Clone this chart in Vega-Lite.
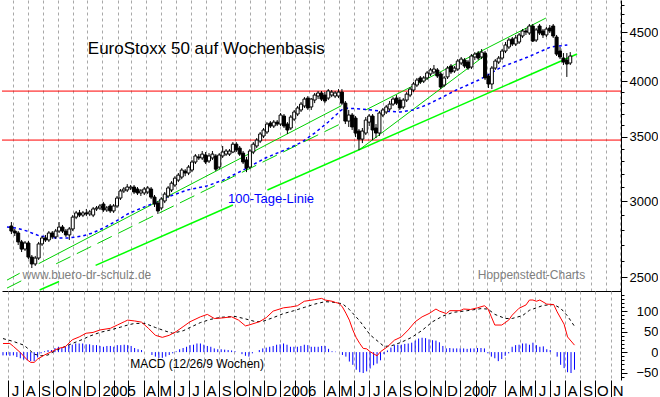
{
  "$schema": "https://vega.github.io/schema/vega-lite/v6.json",
  "padding": 0,
  "background": "#ffffff",
  "spacing": 0,
  "bounds": "flush",
  "config": {
    "view": {"stroke": null},
    "font": "Liberation Sans",
    "axis": {"labelFont": "Liberation Sans", "labelColor": "#000000", "tickColor": "#000000", "domainColor": "#000000", "title": null}
  },
  "datasets": {
    "candles": [
      {"date":"2004-06-28","o":2826,"h":2853,"l":2772,"c":2792},
      {"date":"2004-07-05","o":2792,"h":2806,"l":2759,"c":2779},
      {"date":"2004-07-12","o":2779,"h":2792,"l":2700,"c":2720},
      {"date":"2004-07-19","o":2720,"h":2733,"l":2655,"c":2674},
      {"date":"2004-07-26","o":2674,"h":2726,"l":2662,"c":2713},
      {"date":"2004-08-02","o":2713,"h":2726,"l":2611,"c":2623},
      {"date":"2004-08-09","o":2623,"h":2636,"l":2555,"c":2580},
      {"date":"2004-08-16","o":2580,"h":2630,"l":2568,"c":2617},
      {"date":"2004-08-23","o":2617,"h":2720,"l":2605,"c":2707},
      {"date":"2004-08-30","o":2707,"h":2759,"l":2694,"c":2746},
      {"date":"2004-09-06","o":2746,"h":2766,"l":2720,"c":2733},
      {"date":"2004-09-13","o":2733,"h":2792,"l":2720,"c":2779},
      {"date":"2004-09-20","o":2779,"h":2792,"l":2740,"c":2753},
      {"date":"2004-09-27","o":2753,"h":2806,"l":2740,"c":2792},
      {"date":"2004-10-04","o":2792,"h":2853,"l":2779,"c":2819},
      {"date":"2004-10-11","o":2819,"h":2833,"l":2779,"c":2792},
      {"date":"2004-10-18","o":2792,"h":2806,"l":2753,"c":2766},
      {"date":"2004-10-25","o":2766,"h":2819,"l":2733,"c":2806},
      {"date":"2004-11-01","o":2806,"h":2901,"l":2792,"c":2887},
      {"date":"2004-11-08","o":2887,"h":2930,"l":2873,"c":2916},
      {"date":"2004-11-15","o":2916,"h":2937,"l":2887,"c":2901},
      {"date":"2004-11-22","o":2901,"h":2930,"l":2887,"c":2916},
      {"date":"2004-11-29","o":2916,"h":2944,"l":2894,"c":2909},
      {"date":"2004-12-06","o":2909,"h":2937,"l":2894,"c":2923},
      {"date":"2004-12-13","o":2901,"h":2958,"l":2887,"c":2944},
      {"date":"2004-12-20","o":2944,"h":2965,"l":2930,"c":2951},
      {"date":"2004-12-27","o":2951,"h":2979,"l":2937,"c":2965},
      {"date":"2005-01-03","o":2979,"h":2994,"l":2923,"c":2937},
      {"date":"2005-01-10","o":2937,"h":2965,"l":2923,"c":2951},
      {"date":"2005-01-17","o":2965,"h":2979,"l":2916,"c":2930},
      {"date":"2005-01-24","o":2930,"h":2979,"l":2916,"c":2965},
      {"date":"2005-01-31","o":2965,"h":3037,"l":2951,"c":3022},
      {"date":"2005-02-07","o":3022,"h":3088,"l":3008,"c":3074},
      {"date":"2005-02-14","o":3074,"h":3103,"l":3059,"c":3088},
      {"date":"2005-02-21","o":3081,"h":3125,"l":3066,"c":3103},
      {"date":"2005-02-28","o":3096,"h":3118,"l":3081,"c":3103},
      {"date":"2005-03-07","o":3103,"h":3118,"l":3051,"c":3066},
      {"date":"2005-03-14","o":3088,"h":3103,"l":3044,"c":3059},
      {"date":"2005-03-21","o":3059,"h":3088,"l":3037,"c":3074},
      {"date":"2005-03-28","o":3059,"h":3103,"l":3044,"c":3088},
      {"date":"2005-04-04","o":3066,"h":3110,"l":3051,"c":3096},
      {"date":"2005-04-11","o":3088,"h":3103,"l":3015,"c":3029},
      {"date":"2005-04-18","o":3029,"h":3044,"l":2958,"c":2979},
      {"date":"2005-04-25","o":2986,"h":3001,"l":2909,"c":2930},
      {"date":"2005-05-02","o":2951,"h":3029,"l":2937,"c":3015},
      {"date":"2005-05-09","o":3001,"h":3066,"l":2986,"c":3051},
      {"date":"2005-05-16","o":3037,"h":3110,"l":3022,"c":3096},
      {"date":"2005-05-23","o":3081,"h":3147,"l":3066,"c":3132},
      {"date":"2005-05-30","o":3118,"h":3185,"l":3103,"c":3170},
      {"date":"2005-06-06","o":3155,"h":3209,"l":3140,"c":3193},
      {"date":"2005-06-13","o":3178,"h":3247,"l":3162,"c":3232},
      {"date":"2005-06-20","o":3224,"h":3239,"l":3185,"c":3209},
      {"date":"2005-06-27","o":3209,"h":3271,"l":3193,"c":3255},
      {"date":"2005-07-04","o":3232,"h":3311,"l":3216,"c":3295},
      {"date":"2005-07-11","o":3295,"h":3358,"l":3279,"c":3343},
      {"date":"2005-07-18","o":3335,"h":3358,"l":3311,"c":3327},
      {"date":"2005-07-25","o":3327,"h":3383,"l":3311,"c":3358},
      {"date":"2005-08-01","o":3351,"h":3375,"l":3279,"c":3295},
      {"date":"2005-08-08","o":3303,"h":3366,"l":3287,"c":3343},
      {"date":"2005-08-15","o":3327,"h":3383,"l":3311,"c":3358},
      {"date":"2005-08-22","o":3343,"h":3358,"l":3224,"c":3239},
      {"date":"2005-08-29","o":3255,"h":3366,"l":3239,"c":3351},
      {"date":"2005-09-05","o":3343,"h":3424,"l":3327,"c":3375},
      {"date":"2005-09-12","o":3358,"h":3399,"l":3343,"c":3383},
      {"date":"2005-09-19","o":3358,"h":3399,"l":3343,"c":3383},
      {"date":"2005-09-26","o":3375,"h":3456,"l":3366,"c":3439},
      {"date":"2005-10-03","o":3439,"h":3456,"l":3375,"c":3391},
      {"date":"2005-10-10","o":3407,"h":3424,"l":3343,"c":3358},
      {"date":"2005-10-17","o":3366,"h":3383,"l":3279,"c":3295},
      {"date":"2005-10-24","o":3311,"h":3335,"l":3216,"c":3247},
      {"date":"2005-10-31","o":3255,"h":3399,"l":3239,"c":3383},
      {"date":"2005-11-07","o":3375,"h":3456,"l":3358,"c":3439},
      {"date":"2005-11-14","o":3424,"h":3490,"l":3407,"c":3473},
      {"date":"2005-11-21","o":3465,"h":3541,"l":3448,"c":3524},
      {"date":"2005-11-28","o":3507,"h":3575,"l":3490,"c":3558},
      {"date":"2005-12-05","o":3541,"h":3626,"l":3524,"c":3609},
      {"date":"2005-12-12","o":3618,"h":3635,"l":3575,"c":3592},
      {"date":"2005-12-19","o":3592,"h":3644,"l":3575,"c":3626},
      {"date":"2005-12-26","o":3626,"h":3644,"l":3592,"c":3609},
      {"date":"2006-01-02","o":3609,"h":3706,"l":3592,"c":3688},
      {"date":"2006-01-09","o":3679,"h":3697,"l":3575,"c":3592},
      {"date":"2006-01-16","o":3609,"h":3626,"l":3524,"c":3558},
      {"date":"2006-01-23","o":3575,"h":3688,"l":3558,"c":3670},
      {"date":"2006-01-30","o":3652,"h":3733,"l":3635,"c":3715},
      {"date":"2006-02-06","o":3697,"h":3769,"l":3679,"c":3751},
      {"date":"2006-02-13","o":3733,"h":3805,"l":3715,"c":3786},
      {"date":"2006-02-20","o":3769,"h":3850,"l":3751,"c":3832},
      {"date":"2006-02-27","o":3841,"h":3860,"l":3733,"c":3751},
      {"date":"2006-03-06","o":3760,"h":3841,"l":3733,"c":3832},
      {"date":"2006-03-13","o":3823,"h":3888,"l":3795,"c":3869},
      {"date":"2006-03-20","o":3860,"h":3907,"l":3832,"c":3888},
      {"date":"2006-03-27","o":3888,"h":3907,"l":3814,"c":3832},
      {"date":"2006-04-03","o":3869,"h":3897,"l":3795,"c":3814},
      {"date":"2006-04-10","o":3841,"h":3925,"l":3823,"c":3907},
      {"date":"2006-04-17","o":3869,"h":3916,"l":3850,"c":3897},
      {"date":"2006-04-24","o":3860,"h":3907,"l":3841,"c":3888},
      {"date":"2006-05-01","o":3860,"h":3925,"l":3841,"c":3897},
      {"date":"2006-05-08","o":3897,"h":3925,"l":3778,"c":3795},
      {"date":"2006-05-15","o":3795,"h":3814,"l":3609,"c":3635},
      {"date":"2006-05-22","o":3635,"h":3733,"l":3584,"c":3688},
      {"date":"2006-05-29","o":3688,"h":3706,"l":3558,"c":3584},
      {"date":"2006-06-05","o":3661,"h":3679,"l":3498,"c":3532},
      {"date":"2006-06-12","o":3549,"h":3566,"l":3391,"c":3481},
      {"date":"2006-06-19","o":3481,"h":3575,"l":3448,"c":3549},
      {"date":"2006-06-26","o":3532,"h":3670,"l":3515,"c":3644},
      {"date":"2006-07-03","o":3626,"h":3697,"l":3592,"c":3679},
      {"date":"2006-07-10","o":3679,"h":3697,"l":3473,"c":3558},
      {"date":"2006-07-17","o":3575,"h":3609,"l":3490,"c":3532},
      {"date":"2006-07-24","o":3532,"h":3724,"l":3507,"c":3706},
      {"date":"2006-07-31","o":3688,"h":3751,"l":3670,"c":3733},
      {"date":"2006-08-07","o":3715,"h":3778,"l":3697,"c":3760},
      {"date":"2006-08-14","o":3742,"h":3814,"l":3724,"c":3786},
      {"date":"2006-08-21","o":3786,"h":3850,"l":3769,"c":3832},
      {"date":"2006-08-28","o":3841,"h":3869,"l":3778,"c":3795},
      {"date":"2006-09-04","o":3823,"h":3850,"l":3733,"c":3751},
      {"date":"2006-09-11","o":3760,"h":3841,"l":3742,"c":3823},
      {"date":"2006-09-18","o":3823,"h":3897,"l":3805,"c":3878},
      {"date":"2006-09-25","o":3869,"h":3944,"l":3850,"c":3925},
      {"date":"2006-10-02","o":3916,"h":3992,"l":3897,"c":3973},
      {"date":"2006-10-09","o":3963,"h":4031,"l":3944,"c":4011},
      {"date":"2006-10-16","o":4031,"h":4050,"l":3973,"c":3992},
      {"date":"2006-10-23","o":4001,"h":4050,"l":3982,"c":4031},
      {"date":"2006-10-30","o":4031,"h":4099,"l":4011,"c":4080},
      {"date":"2006-11-06","o":4070,"h":4128,"l":4050,"c":4109},
      {"date":"2006-11-13","o":4089,"h":4158,"l":4070,"c":4118},
      {"date":"2006-11-20","o":4109,"h":4128,"l":4031,"c":4050},
      {"date":"2006-11-27","o":4070,"h":4089,"l":3925,"c":3944},
      {"date":"2006-12-04","o":3963,"h":4050,"l":3944,"c":4031},
      {"date":"2006-12-11","o":4041,"h":4148,"l":4021,"c":4128},
      {"date":"2006-12-18","o":4148,"h":4168,"l":4070,"c":4089},
      {"date":"2006-12-25","o":4099,"h":4148,"l":4080,"c":4128},
      {"date":"2007-01-01","o":4118,"h":4218,"l":4099,"c":4198},
      {"date":"2007-01-08","o":4178,"h":4239,"l":4158,"c":4218},
      {"date":"2007-01-15","o":4208,"h":4228,"l":4128,"c":4148},
      {"date":"2007-01-22","o":4188,"h":4208,"l":4109,"c":4128},
      {"date":"2007-01-29","o":4138,"h":4269,"l":4118,"c":4249},
      {"date":"2007-02-05","o":4239,"h":4289,"l":4208,"c":4269},
      {"date":"2007-02-12","o":4279,"h":4300,"l":4208,"c":4228},
      {"date":"2007-02-19","o":4239,"h":4321,"l":4218,"c":4289},
      {"date":"2007-02-26","o":4279,"h":4300,"l":4011,"c":4031},
      {"date":"2007-03-05","o":4050,"h":4070,"l":3935,"c":3973},
      {"date":"2007-03-12","o":3973,"h":4148,"l":3925,"c":4128},
      {"date":"2007-03-19","o":4128,"h":4218,"l":4109,"c":4198},
      {"date":"2007-03-26","o":4188,"h":4249,"l":4168,"c":4228},
      {"date":"2007-04-02","o":4228,"h":4321,"l":4208,"c":4300},
      {"date":"2007-04-09","o":4300,"h":4394,"l":4279,"c":4363},
      {"date":"2007-04-16","o":4342,"h":4437,"l":4321,"c":4415},
      {"date":"2007-04-23","o":4426,"h":4447,"l":4352,"c":4373},
      {"date":"2007-04-30","o":4373,"h":4469,"l":4352,"c":4437},
      {"date":"2007-05-07","o":4394,"h":4490,"l":4373,"c":4469},
      {"date":"2007-05-14","o":4458,"h":4533,"l":4437,"c":4512},
      {"date":"2007-05-21","o":4512,"h":4544,"l":4469,"c":4501},
      {"date":"2007-05-28","o":4490,"h":4588,"l":4469,"c":4566},
      {"date":"2007-06-04","o":4566,"h":4588,"l":4394,"c":4404},
      {"date":"2007-06-11","o":4415,"h":4544,"l":4394,"c":4523},
      {"date":"2007-06-18","o":4566,"h":4588,"l":4469,"c":4490},
      {"date":"2007-06-25","o":4512,"h":4533,"l":4437,"c":4469},
      {"date":"2007-07-02","o":4469,"h":4555,"l":4447,"c":4533},
      {"date":"2007-07-09","o":4544,"h":4577,"l":4490,"c":4512},
      {"date":"2007-07-16","o":4566,"h":4588,"l":4437,"c":4458},
      {"date":"2007-07-23","o":4447,"h":4469,"l":4249,"c":4269},
      {"date":"2007-07-30","o":4300,"h":4342,"l":4218,"c":4239},
      {"date":"2007-08-06","o":4228,"h":4279,"l":4158,"c":4188},
      {"date":"2007-08-13","o":4208,"h":4279,"l":4041,"c":4168},
      {"date":"2007-08-20","o":4178,"h":4289,"l":4158,"c":4249}
    ],
    "ma": [
      {"date":"2004-06-19","v":2819},{"date":"2004-07-09","v":2812},{"date":"2004-07-29","v":2793},
      {"date":"2004-08-25","v":2759},{"date":"2004-09-28","v":2746},{"date":"2004-10-24","v":2746},
      {"date":"2004-11-21","v":2759},{"date":"2004-12-12","v":2779},{"date":"2005-01-07","v":2819},
      {"date":"2005-02-02","v":2867},{"date":"2005-02-22","v":2909},{"date":"2005-03-23","v":2951},
      {"date":"2005-04-18","v":2987},{"date":"2005-05-14","v":3029},{"date":"2005-06-24","v":3081},
      {"date":"2005-08-03","v":3110},{"date":"2005-09-06","v":3155},{"date":"2005-10-17","v":3232},
      {"date":"2005-12-02","v":3327},{"date":"2006-01-20","v":3407},{"date":"2006-02-15","v":3457},
      {"date":"2006-03-13","v":3532},{"date":"2006-04-10","v":3627},{"date":"2006-05-07","v":3733},
      {"date":"2006-05-13","v":3750},{"date":"2006-06-16","v":3742},{"date":"2006-07-26","v":3724},
      {"date":"2006-09-05","v":3715},{"date":"2006-10-01","v":3733},{"date":"2006-10-29","v":3778},
      {"date":"2006-12-01","v":3851},{"date":"2006-12-29","v":3916},{"date":"2007-02-13","v":4011},
      {"date":"2007-04-01","v":4138},{"date":"2007-05-25","v":4239},{"date":"2007-07-11","v":4342},
      {"date":"2007-08-14","v":4363}
    ],
    "bright": [
      {"line":"c1","date":"2004-08-25","v":2424},{"line":"c1","date":"2004-10-04","v":2474},
      {"line":"c2","date":"2004-12-18","v":2571},{"line":"c2","date":"2005-09-26","v":2972},
      {"line":"c3","date":"2005-12-06","v":3081},{"line":"c3","date":"2007-09-03","v":4269}
    ],
    "thin": [
      {"line":"a1","date":"2004-06-19","v":2482},{"line":"a1","date":"2004-07-15","v":2523},
      {"line":"a2","date":"2004-08-23","v":2582},{"line":"a2","date":"2006-05-07","v":3772},
      {"line":"d","date":"2006-06-12","v":3391},{"line":"d","date":"2007-02-27","v":4259},
      {"line":"e","date":"2006-06-26","v":3733},{"line":"e","date":"2007-07-01","v":4654}
    ],
    "dashed": [
      {"line":"b1","date":"2004-06-19","v":2435},{"line":"b1","date":"2004-07-29","v":2493},
      {"line":"b2","date":"2004-09-28","v":2581},{"line":"b2","date":"2006-05-07","v":3615}
    ],
    "levels": [{"v":3906},{"v":3473}],
    "macd": [
      {"date":"2004-06-21","m":21},{"date":"2004-07-05","m":21},{"date":"2004-07-12","m":14},
      {"date":"2004-07-26","m":-1},{"date":"2004-08-09","m":-19},{"date":"2004-08-16","m":-25},
      {"date":"2004-08-23","m":-25},{"date":"2004-08-30","m":-17},{"date":"2004-09-13","m":-7},
      {"date":"2004-09-27","m":1},{"date":"2004-10-11","m":9},{"date":"2004-10-25","m":13},
      {"date":"2004-11-08","m":30},{"date":"2004-11-22","m":37},{"date":"2004-12-06","m":46},
      {"date":"2004-12-20","m":48},{"date":"2005-01-03","m":54},{"date":"2005-01-24","m":58},
      {"date":"2005-02-07","m":66},{"date":"2005-02-21","m":74},{"date":"2005-02-28","m":78},
      {"date":"2005-03-14","m":76},{"date":"2005-03-28","m":73},{"date":"2005-04-11","m":58},
      {"date":"2005-04-25","m":41},{"date":"2005-05-09","m":36},{"date":"2005-05-23","m":41},
      {"date":"2005-06-06","m":50},{"date":"2005-06-20","m":62},{"date":"2005-07-04","m":74},
      {"date":"2005-07-25","m":86},{"date":"2005-08-08","m":92},{"date":"2005-08-22","m":82},
      {"date":"2005-09-05","m":83},{"date":"2005-09-26","m":86},{"date":"2005-10-10","m":78},
      {"date":"2005-10-24","m":64},{"date":"2005-10-31","m":66},{"date":"2005-11-21","m":74},
      {"date":"2005-12-05","m":84},{"date":"2005-12-19","m":100},{"date":"2006-01-09","m":108},
      {"date":"2006-01-23","m":110},{"date":"2006-02-06","m":113},{"date":"2006-02-20","m":124},
      {"date":"2006-03-13","m":128},{"date":"2006-03-27","m":131},{"date":"2006-04-03","m":127},
      {"date":"2006-04-17","m":124},{"date":"2006-04-24","m":121},{"date":"2006-05-01","m":119},
      {"date":"2006-05-08","m":110},{"date":"2006-05-15","m":95},{"date":"2006-05-22","m":78},
      {"date":"2006-05-29","m":54},{"date":"2006-06-05","m":35},{"date":"2006-06-12","m":21},
      {"date":"2006-06-19","m":9},{"date":"2006-06-26","m":8},{"date":"2006-07-03","m":1},
      {"date":"2006-07-17","m":-9},{"date":"2006-07-24","m":1},{"date":"2006-08-07","m":13},
      {"date":"2006-08-21","m":29},{"date":"2006-09-04","m":37},{"date":"2006-09-18","m":54},
      {"date":"2006-10-02","m":74},{"date":"2006-10-16","m":86},{"date":"2006-10-30","m":94},
      {"date":"2006-11-13","m":105},{"date":"2006-11-20","m":100},{"date":"2006-12-04","m":94},
      {"date":"2006-12-11","m":101},{"date":"2007-01-01","m":101},{"date":"2007-01-08","m":105},
      {"date":"2007-01-22","m":104},{"date":"2007-02-05","m":108},{"date":"2007-02-19","m":113},
      {"date":"2007-02-26","m":106},{"date":"2007-03-05","m":86},{"date":"2007-03-12","m":66},
      {"date":"2007-03-26","m":66},{"date":"2007-04-09","m":78},{"date":"2007-04-16","m":90},
      {"date":"2007-04-30","m":107},{"date":"2007-05-14","m":115},{"date":"2007-05-21","m":127},
      {"date":"2007-05-28","m":127},{"date":"2007-06-04","m":124},{"date":"2007-06-11","m":127},
      {"date":"2007-06-25","m":117},{"date":"2007-07-09","m":116},{"date":"2007-07-16","m":98},
      {"date":"2007-07-30","m":68},{"date":"2007-08-06","m":37},{"date":"2007-08-20","m":17}
    ],
    "signal": [
      {"date":"2004-06-21","s":33},{"date":"2004-07-12","s":26},{"date":"2004-08-02","s":17},
      {"date":"2004-08-09","s":10},{"date":"2004-08-23","s":-5},{"date":"2004-09-06","s":-9},
      {"date":"2004-09-20","s":-7},{"date":"2004-10-04","s":3},{"date":"2004-10-25","s":14},
      {"date":"2004-11-08","s":21},{"date":"2004-11-29","s":31},{"date":"2004-12-13","s":39},
      {"date":"2005-01-03","s":48},{"date":"2005-01-24","s":54},{"date":"2005-02-14","s":61},
      {"date":"2005-02-28","s":66},{"date":"2005-03-14","s":70},{"date":"2005-04-04","s":70},
      {"date":"2005-04-25","s":60},{"date":"2005-05-16","s":51},{"date":"2005-05-30","s":46},
      {"date":"2005-06-20","s":52},{"date":"2005-07-04","s":60},{"date":"2005-07-25","s":72},
      {"date":"2005-08-15","s":80},{"date":"2005-09-05","s":85},{"date":"2005-10-03","s":87},
      {"date":"2005-10-24","s":81},{"date":"2005-11-14","s":74},{"date":"2005-11-28","s":75},
      {"date":"2005-12-19","s":84},{"date":"2006-01-09","s":94},{"date":"2006-01-30","s":101},
      {"date":"2006-02-20","s":109},{"date":"2006-03-13","s":117},{"date":"2006-04-03","s":123},
      {"date":"2006-04-17","s":122},{"date":"2006-05-08","s":118},{"date":"2006-05-22","s":104},
      {"date":"2006-06-12","s":76},{"date":"2006-07-03","s":42},{"date":"2006-07-24","s":21},
      {"date":"2006-07-31","s":14},{"date":"2006-08-14","s":15},{"date":"2006-09-04","s":24},
      {"date":"2006-09-25","s":36},{"date":"2006-10-16","s":53},{"date":"2006-11-06","s":74},
      {"date":"2006-11-27","s":88},{"date":"2006-12-18","s":97},{"date":"2007-01-15","s":101},
      {"date":"2007-02-12","s":106},{"date":"2007-02-26","s":105},{"date":"2007-03-12","s":92},
      {"date":"2007-04-02","s":82},{"date":"2007-04-16","s":82},{"date":"2007-05-07","s":89},
      {"date":"2007-05-21","s":102},{"date":"2007-06-18","s":114},{"date":"2007-07-09","s":116},
      {"date":"2007-07-23","s":107},{"date":"2007-08-06","s":88},{"date":"2007-08-20","s":63}
    ],
    "hist": [
      {"date":"2004-06-21","hv":-8},{"date":"2004-06-28","hv":-8},{"date":"2004-07-05","hv":-9},
      {"date":"2004-07-12","hv":-8},{"date":"2004-07-19","hv":-12},{"date":"2004-07-26","hv":-15},
      {"date":"2004-08-02","hv":-18},{"date":"2004-08-09","hv":-20},{"date":"2004-08-16","hv":-22},
      {"date":"2004-08-23","hv":-22},{"date":"2004-08-30","hv":-13},{"date":"2004-09-06","hv":-3},
      {"date":"2004-09-13","hv":2},{"date":"2004-09-20","hv":5},{"date":"2004-09-27","hv":5},
      {"date":"2004-10-04","hv":10},{"date":"2004-10-11","hv":13},{"date":"2004-10-18","hv":10},
      {"date":"2004-10-25","hv":13},{"date":"2004-11-01","hv":17},{"date":"2004-11-08","hv":18},
      {"date":"2004-11-15","hv":21},{"date":"2004-11-22","hv":21},{"date":"2004-11-29","hv":21},
      {"date":"2004-12-06","hv":19},{"date":"2004-12-13","hv":19},{"date":"2004-12-20","hv":17},
      {"date":"2004-12-27","hv":17},{"date":"2005-01-03","hv":15},{"date":"2005-01-10","hv":13},
      {"date":"2005-01-17","hv":15},{"date":"2005-01-24","hv":15},{"date":"2005-01-31","hv":13},
      {"date":"2005-02-07","hv":17},{"date":"2005-02-14","hv":17},{"date":"2005-02-21","hv":18},
      {"date":"2005-02-28","hv":17},{"date":"2005-03-07","hv":15},{"date":"2005-03-14","hv":10},
      {"date":"2005-03-21","hv":7},{"date":"2005-03-28","hv":5},{"date":"2005-04-04","hv":0},
      {"date":"2005-04-11","hv":0},{"date":"2005-04-18","hv":-7},{"date":"2005-04-25","hv":-11},
      {"date":"2005-05-02","hv":-14},{"date":"2005-05-09","hv":-14},{"date":"2005-05-16","hv":-11},
      {"date":"2005-05-23","hv":-7},{"date":"2005-05-30","hv":-3},{"date":"2005-06-06","hv":2},
      {"date":"2005-06-13","hv":7},{"date":"2005-06-20","hv":10},{"date":"2005-06-27","hv":13},
      {"date":"2005-07-04","hv":17},{"date":"2005-07-11","hv":18},{"date":"2005-07-18","hv":21},
      {"date":"2005-07-25","hv":21},{"date":"2005-08-01","hv":18},{"date":"2005-08-08","hv":15},
      {"date":"2005-08-15","hv":13},{"date":"2005-08-22","hv":9},{"date":"2005-08-29","hv":7},
      {"date":"2005-09-05","hv":7},{"date":"2005-09-12","hv":6},{"date":"2005-09-19","hv":5},
      {"date":"2005-09-26","hv":4},{"date":"2005-10-03","hv":2},{"date":"2005-10-10","hv":0},
      {"date":"2005-10-17","hv":-5},{"date":"2005-10-24","hv":-9},{"date":"2005-10-31","hv":-11},
      {"date":"2005-11-07","hv":-3},{"date":"2005-11-14","hv":0},{"date":"2005-11-21","hv":5},
      {"date":"2005-11-28","hv":9},{"date":"2005-12-05","hv":11},{"date":"2005-12-12","hv":13},
      {"date":"2005-12-19","hv":15},{"date":"2005-12-26","hv":18},{"date":"2006-01-02","hv":19},
      {"date":"2006-01-09","hv":21},{"date":"2006-01-16","hv":18},{"date":"2006-01-23","hv":13},
      {"date":"2006-01-30","hv":13},{"date":"2006-02-06","hv":13},{"date":"2006-02-13","hv":15},
      {"date":"2006-02-20","hv":18},{"date":"2006-02-27","hv":17},{"date":"2006-03-06","hv":13},
      {"date":"2006-03-13","hv":13},{"date":"2006-03-20","hv":13},{"date":"2006-03-27","hv":15},
      {"date":"2006-04-03","hv":15},{"date":"2006-04-10","hv":8},{"date":"2006-04-17","hv":2},
      {"date":"2006-04-24","hv":1},{"date":"2006-05-01","hv":0},{"date":"2006-05-08","hv":-7},
      {"date":"2006-05-15","hv":-11},{"date":"2006-05-22","hv":-23},{"date":"2006-05-29","hv":-31},
      {"date":"2006-06-05","hv":-43},{"date":"2006-06-12","hv":-49},{"date":"2006-06-19","hv":-51},
      {"date":"2006-06-26","hv":-47},{"date":"2006-07-03","hv":-40},{"date":"2006-07-10","hv":-32},
      {"date":"2006-07-17","hv":-28},{"date":"2006-07-24","hv":-20},{"date":"2006-07-31","hv":-5},
      {"date":"2006-08-07","hv":4},{"date":"2006-08-14","hv":11},{"date":"2006-08-21","hv":17},
      {"date":"2006-08-28","hv":18},{"date":"2006-09-04","hv":18},{"date":"2006-09-11","hv":20},
      {"date":"2006-09-18","hv":21},{"date":"2006-09-25","hv":23},{"date":"2006-10-02","hv":28},
      {"date":"2006-10-09","hv":33},{"date":"2006-10-16","hv":35},{"date":"2006-10-23","hv":34},
      {"date":"2006-10-30","hv":31},{"date":"2006-11-06","hv":29},{"date":"2006-11-13","hv":28},
      {"date":"2006-11-20","hv":24},{"date":"2006-11-27","hv":15},{"date":"2006-12-04","hv":9},
      {"date":"2006-12-11","hv":10},{"date":"2006-12-18","hv":9},{"date":"2006-12-25","hv":9},
      {"date":"2007-01-01","hv":9},{"date":"2007-01-08","hv":9},{"date":"2007-01-15","hv":8},
      {"date":"2007-01-22","hv":9},{"date":"2007-01-29","hv":9},{"date":"2007-02-05","hv":10},
      {"date":"2007-02-12","hv":10},{"date":"2007-02-19","hv":9},{"date":"2007-02-26","hv":-3},
      {"date":"2007-03-05","hv":-11},{"date":"2007-03-12","hv":-15},{"date":"2007-03-19","hv":-22},
      {"date":"2007-03-26","hv":-17},{"date":"2007-04-02","hv":-9},{"date":"2007-04-09","hv":-3},
      {"date":"2007-04-16","hv":13},{"date":"2007-04-23","hv":17},{"date":"2007-04-30","hv":18},
      {"date":"2007-05-07","hv":21},{"date":"2007-05-14","hv":21},{"date":"2007-05-21","hv":18},
      {"date":"2007-05-28","hv":23},{"date":"2007-06-04","hv":17},{"date":"2007-06-11","hv":13},
      {"date":"2007-06-18","hv":14},{"date":"2007-06-25","hv":7},{"date":"2007-07-02","hv":5},
      {"date":"2007-07-09","hv":0},{"date":"2007-07-16","hv":-11},{"date":"2007-07-23","hv":-31},
      {"date":"2007-07-30","hv":-39},{"date":"2007-08-06","hv":-49},{"date":"2007-08-13","hv":-51},
      {"date":"2007-08-20","hv":-43}
    ]
  },
  "vconcat": [
    {
      "width": 619,
      "height": 291,
      "resolve": {"axis": {"y": "independent"}},
      "encoding": {
        "x": {
          "field": "date", "type": "temporal",
          "scale": {"type": "utc", "domain": [{"year": 2004, "month": 6, "date": 19, "utc": true}, {"year": 2007, "month": 11, "date": 22, "utc": true}]},
          "axis": {"orient": "bottom", "grid": true, "gridColor": "#a8a8a8", "gridDash": [3, 3], "gridWidth": 1, "labels": false, "ticks": false, "domain": true, "domainColor": "#000000", "domainWidth": 1, "title": null, "tickCount": {"interval": "month", "step": 1}}
        }
      },
      "layer": [
        {
          "data": {"name": "levels"},
          "mark": {"type": "rule", "color": "#ff0000", "strokeWidth": 1},
          "encoding": {
            "x": null,
            "y": {
              "field": "v", "type": "quantitative",
              "scale": {"type": "log", "domain": [2418, 4860], "nice": false, "zero": false},
              "axis": {
                "orient": "right", "title": null, "grid": false, "format": "d",
                "values": [2500, 3000, 3500, 4000, 4500],
                "tickSize": 6, "labelAlign": "right", "labelPadding": 31, "labelFontSize": 13,
                "labelOverlap": false, "labelFlush": false, "domain": true, "domainColor": "#000000", "tickColor": "#000000"
              }
            }
          }
        },
        {
          "data": {"name": "bright"},
          "mark": {"type": "line", "color": "#00ff00", "strokeWidth": 1.5},
          "encoding": {"y": {"field": "v", "type": "quantitative", "axis": null}, "detail": {"field": "line"}}
        },
        {
          "data": {"name": "thin"},
          "mark": {"type": "line", "color": "#00d000", "strokeWidth": 1},
          "encoding": {"y": {"field": "v", "type": "quantitative", "axis": null}, "detail": {"field": "line"}}
        },
        {
          "data": {"name": "dashed"},
          "mark": {"type": "line", "color": "#00d000", "strokeWidth": 1, "strokeDash": [16, 7]},
          "encoding": {"y": {"field": "v", "type": "quantitative", "axis": null}, "detail": {"field": "line"}}
        },
        {
          "data": {"name": "ma"},
          "mark": {"type": "line", "color": "#0000ff", "strokeWidth": 1.5, "strokeDash": [3, 3]},
          "encoding": {"y": {"field": "v", "type": "quantitative", "axis": null}}
        },
        {
          "data": {"name": "candles"},
          "mark": {"type": "rule", "color": "#000000", "strokeWidth": 1},
          "encoding": {
            "y": {
              "field": "l", "type": "quantitative",
              "axis": {
                "orient": "right", "title": null, "grid": false, "labels": false, "domain": false,
                "values": [2500, 2600, 2700, 2800, 2900, 3000, 3100, 3200, 3300, 3400, 3500, 3600, 3700, 3800, 3900, 4000, 4100, 4200, 4300, 4400, 4500, 4600, 4700, 4800],
                "tickSize": 3, "tickColor": "#000000"
              }
            },
            "y2": {"field": "h"}
          }
        },
        {
          "data": {"name": "candles"},
          "mark": {"type": "bar", "size": 3, "stroke": "#000000", "strokeWidth": 1},
          "encoding": {
            "y": {"field": "o", "type": "quantitative", "axis": null},
            "y2": {"field": "c"},
            "fill": {"condition": {"test": "datum.c >= datum.o", "value": "#ffffff"}, "value": "#000000"}
          }
        },
        {
          "data": {"values": [{"date": "2004-12-02", "v": 4269, "t": "EuroStoxx 50 auf Wochenbasis"}]},
          "mark": {"type": "text", "align": "left", "baseline": "alphabetic", "fontSize": 17, "font": "Liberation Sans", "color": "#000000"},
          "encoding": {"y": {"field": "v", "type": "quantitative", "axis": null}, "text": {"field": "t"}}
        },
        {
          "data": {"values": [{"date": "2005-09-16", "v": 2986, "t": "100-Tage-Linie"}]},
          "mark": {"type": "text", "align": "left", "baseline": "alphabetic", "fontSize": 13, "font": "Liberation Sans", "color": "#0000ff"},
          "encoding": {"y": {"field": "v", "type": "quantitative", "axis": null}, "text": {"field": "t"}}
        },
        {
          "data": {"values": [{"date": "2004-07-21", "v": 2488, "t": "www.buero-dr-schulz.de"}, {"date": "2007-02-11", "v": 2488, "t": "Hoppenstedt-Charts"}]},
          "mark": {"type": "text", "align": "left", "baseline": "alphabetic", "fontSize": 12, "font": "Liberation Sans", "color": "#808080"},
          "encoding": {"y": {"field": "v", "type": "quantitative", "axis": null}, "text": {"field": "t"}}
        }
      ]
    },
    {
      "width": 619,
      "height": 89,
      "resolve": {"axis": {"y": "independent"}},
      "encoding": {
        "x": {
          "field": "date", "type": "temporal",
          "scale": {"type": "utc", "domain": [{"year": 2004, "month": 6, "date": 19, "utc": true}, {"year": 2007, "month": 11, "date": 22, "utc": true}]},
          "axis": {
            "orient": "bottom", "grid": true, "gridColor": "#a8a8a8", "gridDash": [3, 3], "gridWidth": 1,
            "domain": false, "ticks": true, "tickSize": 17, "tickColor": "#000000", "title": null,
            "tickCount": {"interval": "month", "step": 1},
            "labelExpr": "utcmonth(datum.value) === 0 ? utcFormat(datum.value, '%Y') : (utcmonth(datum.value) < 3 ? '' : substring('JFMAMJJASOND', utcmonth(datum.value), utcmonth(datum.value) + 1))",
            "labelAlign": {"condition": {"test": "utcmonth(datum.value) === 0", "value": "left"}, "value": "center"},
            "labelOffset": {"condition": {"test": "utcmonth(datum.value) === 0", "value": 3}, "value": 7},
            "labelPadding": -2, "labelBaseline": "alphabetic", "labelFontSize": 15,
            "labelFont": "Liberation Sans Narrow, Liberation Sans",
            "labelFlush": false, "labelOverlap": false
          }
        }
      },
      "layer": [
        {
          "data": {"name": "hist"},
          "mark": {"type": "rule", "color": "#0000ff", "strokeWidth": 1},
          "encoding": {
            "y": {
              "field": "hv", "type": "quantitative",
              "scale": {"domain": [-68, 149], "nice": false, "zero": false},
              "axis": {
                "orient": "right", "title": null, "grid": false,
                "values": [-50, 0, 50, 100],
                "tickSize": 6, "labelAlign": "right", "labelPadding": 31, "labelFontSize": 13,
                "labelOverlap": false, "labelFlush": false, "domain": true, "domainColor": "#000000", "tickColor": "#000000"
              }
            },
            "y2": {"datum": 0}
          }
        },
        {
          "data": {"name": "signal"},
          "mark": {"type": "line", "color": "#000000", "strokeWidth": 1, "strokeDash": [3, 3]},
          "encoding": {
            "y": {
              "field": "s", "type": "quantitative",
              "axis": {
                "orient": "right", "title": null, "grid": false, "labels": false, "domain": false,
                "values": [-60, -50, -40, -30, -20, -10, 0, 10, 20, 30, 40, 50, 60, 70, 80, 90, 100, 110, 120, 130, 140],
                "tickSize": 3, "tickColor": "#000000"
              }
            }
          }
        },
        {
          "data": {"name": "macd"},
          "mark": {"type": "line", "color": "#ff0000", "strokeWidth": 1},
          "encoding": {"y": {"field": "m", "type": "quantitative", "axis": null}}
        },
        {
          "data": {"values": [{"date": "2005-03-05", "m": -39, "t": "MACD (12/26/9 Wochen)"}]},
          "mark": {"type": "text", "align": "left", "baseline": "alphabetic", "fontSize": 12, "font": "Liberation Sans", "color": "#000000"},
          "encoding": {"y": {"field": "m", "type": "quantitative", "axis": null}, "text": {"field": "t"}}
        }
      ]
    }
  ]
}
